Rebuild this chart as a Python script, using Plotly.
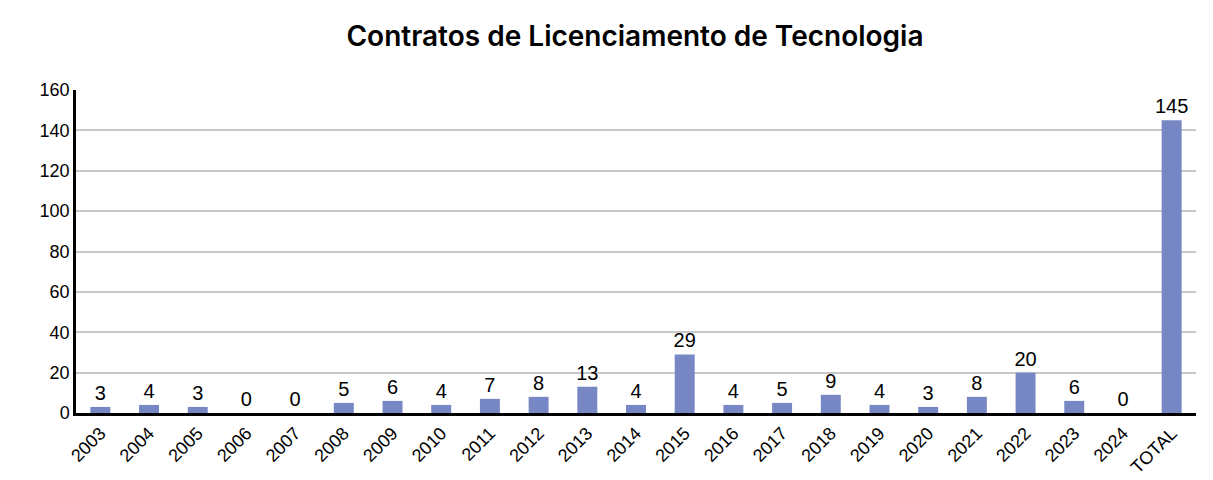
import plotly.graph_objects as go

categories = ["2003", "2004", "2005", "2006", "2007", "2008", "2009", "2010", "2011", "2012",
              "2013", "2014", "2015", "2016", "2017", "2018", "2019", "2020", "2021", "2022",
              "2023", "2024", "TOTAL"]
values = [3, 4, 3, 0, 0, 5, 6, 4, 7, 8, 13, 4, 29, 4, 5, 9, 4, 3, 8, 20, 6, 0, 145]
y_ticks = [0, 20, 40, 60, 80, 100, 120, 140, 160]

bar_color = "#7787C4"

fig = go.Figure(go.Bar(
    x=categories,
    y=values,
    marker=dict(color=bar_color, line=dict(width=0)),
    text=[str(v) for v in values],
    textposition="outside",
    constraintext="none",
    cliponaxis=False,
    textfont=dict(family="Liberation Sans, Arial, sans-serif", size=20, color="#000000"),
))

fig.update_layout(
    width=1213,
    height=480,
    paper_bgcolor="white",
    plot_bgcolor="white",
    margin=dict(l=76, r=17, t=90, b=67),
    bargap=0.59,
    showlegend=False,
    uniformtext=dict(mode=False),
    title=dict(
        text="Contratos de Licenciamento de Tecnologia",
        x=0.5235, xanchor="center",
        y=0.925, yanchor="middle",
        font=dict(family="Inter, sans-serif", size=28, color="#000000", weight=600),
    ),
    xaxis=dict(
        type="category",
        tickangle=-45,
        automargin=False,
        tickfont=dict(family="Liberation Sans, Arial, sans-serif", size=18, color="#000000"),
        showline=True, linecolor="#000000", linewidth=2.5,
        showgrid=False, ticks="",
    ),
    yaxis=dict(
        range=[0, 160],
        tickvals=y_ticks,
        automargin=False,
        tickfont=dict(family="Liberation Sans, Arial, sans-serif", size=18, color="#000000"),
        showline=True, linecolor="#000000", linewidth=2.5,
        showgrid=True, gridcolor="#c8c8c8", gridwidth=1.5,
        zeroline=False, ticks="",
    ),
)

fig.write_html("out.html", config={"displayModeBar": False},
               post_script="document.body.style.margin='0';")
